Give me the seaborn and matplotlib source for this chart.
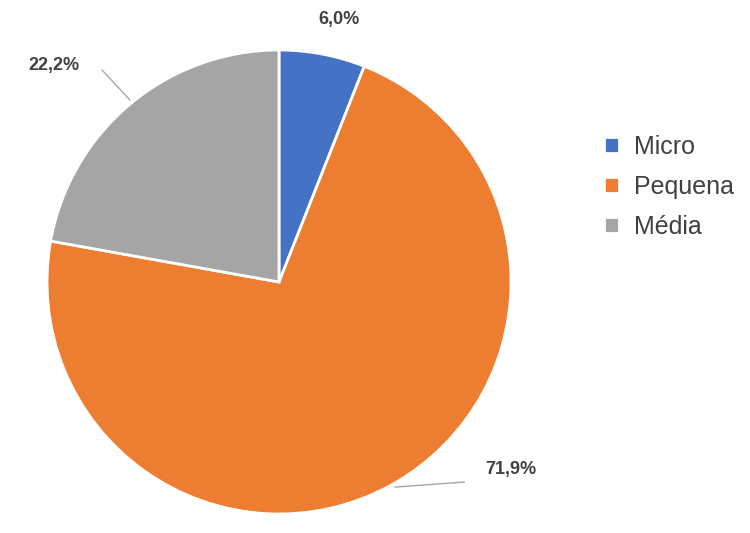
import matplotlib
matplotlib.use("Agg")
import matplotlib.pyplot as plt
import seaborn as sns

categories = ["Micro", "Pequena", "Média"]
values = [6.0, 71.9, 22.2]
labels = ["6,0%", "71,9%", "22,2%"]
colors = ["#4472C4", "#ED7D31", "#A5A5A5"]

sns.set_theme(style="white")
plt.rcParams['font.family'] = ['Liberation Sans', 'DejaVu Sans']

fig = plt.figure(figsize=(7.5, 5.33), dpi=100)
# pie centre ~ (279, 282) px, radius ~232 px
ax = fig.add_axes([(279 - 232) / 750, (533 - 282 - 232) / 533, 464 / 750, 464 / 533])
wedges, _ = ax.pie(values, colors=colors, startangle=90, counterclock=False,
                   radius=1, wedgeprops=dict(edgecolor="white", linewidth=2))
ax.set_xlim(-1, 1)
ax.set_ylim(-1, 1)
ax.set_aspect("equal")
ax.axis("off")

lbl = dict(fontsize=13, fontweight="bold", color="#404040", ha="center", va="center")
ax.text(0.26, 1.13, labels[0], **lbl)
ax.text(1.0, -0.81, labels[1], **lbl)
ax.text(-0.97, 0.935, labels[2], **lbl)
ax.plot([0.5, 0.80], [-0.884, -0.862], color="#A6A6A6", lw=1, clip_on=False)
ax.plot([-0.763, -0.642], [0.914, 0.784], color="#A6A6A6", lw=1, clip_on=False)

leg = fig.legend(wedges, categories, loc="upper left", bbox_to_anchor=(0.775, 1 - 112 / 533),
                 frameon=False, fontsize=18, handlelength=0.6, handleheight=0.6,
                 handletextpad=0.6, labelspacing=0.65)
for t in leg.get_texts():
    t.set_color("#404040")

fig.savefig("out.png", dpi=100)
